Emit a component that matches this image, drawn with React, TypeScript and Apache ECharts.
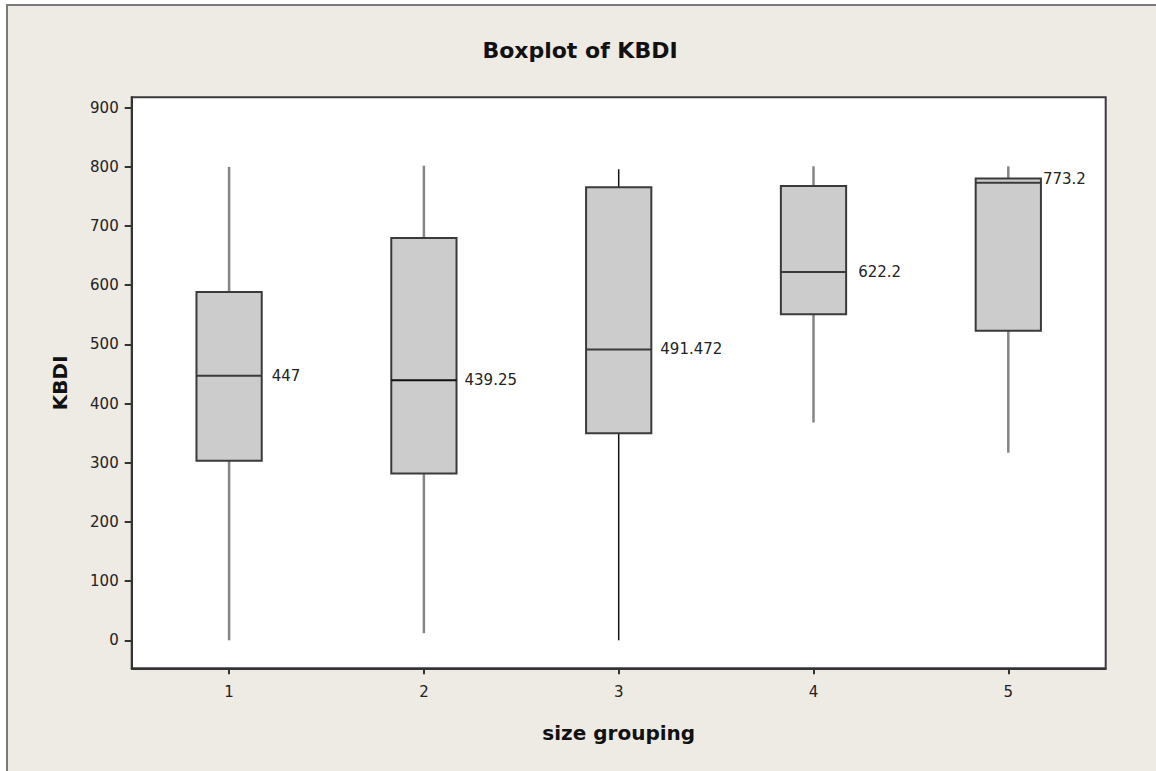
import React, { useEffect, useRef } from "react";
import * as echarts from "echarts";

const categories = ["1", "2", "3", "4", "5"];
// [min, Q1, median, Q3, max]
const boxMin = [0, 12, 0, 368, 317];
const boxQ1 = [303.5, 282, 350, 551, 523];
const boxMedian = [447, 439.25, 491.472, 622.2, 773.2];
const boxQ3 = [588.5, 680, 765.5, 767.5, 780.5];
const boxMax = [800, 802, 796, 801, 801];
const medianLabels = ["447", "439.25", "491.472", "622.2", "773.2"];
const yTicks = [0, 100, 200, 300, 400, 500, 600, 700, 800, 900];

const labelDx = [10, 8, 9, 12, 2];
const labelDy = [0, 0, 0, 0, -4];

export default function App() {
  const ref = useRef<HTMLDivElement>(null);
  useEffect(() => {
    if (!ref.current) return;
    const chart = echarts.init(ref.current, undefined, { renderer: "svg" });
    const data = categories.map((_, i) => [i, boxMin[i], boxQ1[i], boxMedian[i], boxQ3[i], boxMax[i]]);
    const font = "DejaVu Sans, sans-serif";
    chart.setOption({
      animation: false,
      backgroundColor: "transparent",
      graphic: [
        {
          type: "rect",
          shape: { x: 7, y: 5, width: 1160, height: 780 },
          style: { fill: "#EEEAE4", stroke: "#7a7a7a", lineWidth: 2 },
          z: -10,
          silent: true,
        },
        {
          type: "text",
          x: 580,
          y: 50,
          style: {
            text: "Boxplot of KBDI",
            font: "bold 22px DejaVu Sans, sans-serif",
            fill: "#111",
            align: "center",
            verticalAlign: "middle",
          },
        },
      ],
      grid: {
        left: 131.7,
        top: 97.3,
        right: 50.3,
        bottom: 102.7,
        show: true,
        backgroundColor: "#ffffff",
        borderColor: "#3a3a3a",
        borderWidth: 2,
      },
      xAxis: {
        type: "category",
        data: categories,
        boundaryGap: true,
        name: "size grouping",
        nameLocation: "middle",
        nameGap: 55,
        nameTextStyle: { fontFamily: font, fontWeight: "bold", fontSize: 20, color: "#111" },
        axisLine: { show: true, onZero: false, lineStyle: { color: "#333", width: 2 } },
        axisTick: { show: true, inside: false, alignWithLabel: true, interval: 0, length: 6, lineStyle: { color: "#333", width: 2 } },
        axisLabel: { fontFamily: font, fontSize: 15, color: "#222", margin: 16 },
        splitLine: { show: false },
      },
      yAxis: {
        type: "value",
        min: -47.3,
        max: 917.6,
        name: "KBDI",
        nameLocation: "middle",
        nameGap: 62,
        nameRotate: 90,
        nameTextStyle: { fontFamily: font, fontWeight: "bold", fontSize: 20, color: "#111" },
        axisLine: { show: true, onZero: false, lineStyle: { color: "#333", width: 2 } },
        axisTick: { show: true, length: 7, customValues: yTicks, lineStyle: { color: "#333", width: 2 } },
        axisLabel: { fontFamily: font, fontSize: 15, color: "#222", margin: 13, customValues: yTicks },
        splitLine: { show: false },
      },
      series: [
        {
          type: "custom",
          data,
          encode: { x: 0, y: [1, 2, 3, 4, 5] },
          clip: false,
          renderItem: (params: any, api: any) => {
            const i = params.dataIndex;
            const idx = api.value(0);
            const pMin = api.coord([idx, api.value(1)]);
            const pQ1 = api.coord([idx, api.value(2)]);
            const pMed = api.coord([idx, api.value(3)]);
            const pQ3 = api.coord([idx, api.value(4)]);
            const pMax = api.coord([idx, api.value(5)]);
            const bw = api.size([1, 0])[0] * 0.335;
            const cx = pMed[0];
            const left = cx - bw / 2;
            const right = cx + bw / 2;
            const whiskerStyle =
              i === 2
                ? { stroke: "#111", lineWidth: 1.5 }
                : { stroke: "#858585", lineWidth: 2.5 };
            return {
              type: "group",
              children: [
                {
                  type: "line",
                  shape: { x1: cx, y1: pMax[1], x2: cx, y2: pQ3[1] },
                  style: whiskerStyle,
                },
                {
                  type: "line",
                  shape: { x1: cx, y1: pQ1[1], x2: cx, y2: pMin[1] },
                  style: whiskerStyle,
                },
                {
                  type: "rect",
                  shape: { x: left, y: pQ3[1], width: bw, height: pQ1[1] - pQ3[1] },
                  style: { fill: "#CCCCCC", stroke: "#3a3a3a", lineWidth: 2 },
                },
                {
                  type: "line",
                  shape: { x1: left, y1: pMed[1], x2: right, y2: pMed[1] },
                  style: { stroke: i === 1 ? "#111" : "#3a3a3a", lineWidth: 2 },
                },
                {
                  type: "text",
                  x: right + labelDx[i],
                  y: pMed[1] + labelDy[i],
                  style: {
                    text: medianLabels[i],
                    font: "15px DejaVu Sans, sans-serif",
                    fill: "#222",
                    align: "left",
                    verticalAlign: "middle",
                  },
                },
              ],
            };
          },
        },
      ],
    });
    return () => chart.dispose();
  }, []);
  return (
    <div
      ref={ref}
      style={{ position: "fixed", left: 0, top: 0, width: 1156, height: 771, background: "#ffffff" }}
    />
  );
}
